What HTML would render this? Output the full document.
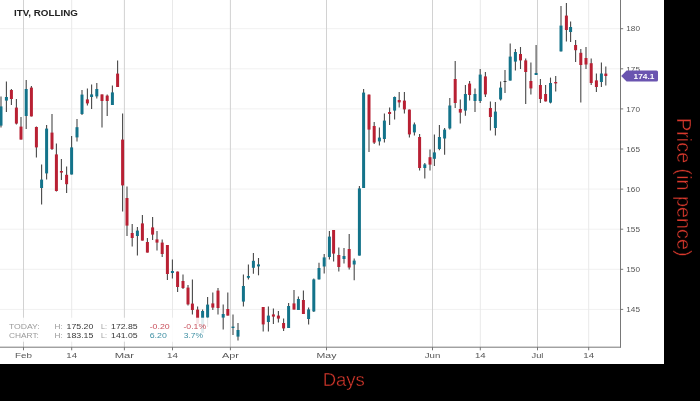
<!DOCTYPE html>
<html><head><meta charset="utf-8"><title>ITV, ROLLING</title>
<style>html,body{margin:0;padding:0;background:#000;}body{width:700px;height:401px;overflow:hidden;}svg{display:block;}text{font-family:"Liberation Sans","DejaVu Sans",sans-serif;}</style>
</head><body>
<svg width="700" height="401" viewBox="0 0 700 401">
<rect x="0" y="0" width="700" height="401" fill="#000"/>
<rect x="0" y="0" width="664" height="364" fill="#fff"/>
<g stroke="#f1f1f1" stroke-width="1">
<line x1="0" y1="28.7" x2="620.5" y2="28.7"/>
<line x1="0" y1="68.8" x2="620.5" y2="68.8"/>
<line x1="0" y1="108.9" x2="620.5" y2="108.9"/>
<line x1="0" y1="149.0" x2="620.5" y2="149.0"/>
<line x1="0" y1="189.1" x2="620.5" y2="189.1"/>
<line x1="0" y1="229.2" x2="620.5" y2="229.2"/>
<line x1="0" y1="269.3" x2="620.5" y2="269.3"/>
<line x1="0" y1="309.4" x2="620.5" y2="309.4"/>
</g>
<g stroke="#d2d2d2" stroke-width="1">
<line x1="23.5" y1="0" x2="23.5" y2="347"/>
<line x1="124.4" y1="0" x2="124.4" y2="347"/>
<line x1="230.4" y1="0" x2="230.4" y2="347"/>
<line x1="326.5" y1="0" x2="326.5" y2="347"/>
<line x1="432.5" y1="0" x2="432.5" y2="347"/>
<line x1="537.5" y1="0" x2="537.5" y2="347"/>
</g>
<g stroke="#e9e9e9" stroke-width="1">
<line x1="71.7" y1="0" x2="71.7" y2="347"/>
<line x1="172.5" y1="0" x2="172.5" y2="347"/>
<line x1="480.3" y1="0" x2="480.3" y2="347"/>
<line x1="588.7" y1="0" x2="588.7" y2="347"/>
</g>
<g>
<line x1="1.0" y1="96.6" x2="1.0" y2="127.6" stroke="#484848" stroke-width="1.1"/>
<rect x="-0.50" y="106.4" width="3" height="19.2" fill="#13738a"/>
<line x1="6.4" y1="81.6" x2="6.4" y2="112.0" stroke="#484848" stroke-width="1.1"/>
<rect x="4.90" y="97.0" width="3" height="3.6" fill="#13738a"/>
<line x1="11.4" y1="89.0" x2="11.4" y2="105.0" stroke="#484848" stroke-width="1.1"/>
<rect x="9.90" y="90.0" width="3" height="9.0" fill="#b82033"/>
<line x1="16.4" y1="99.0" x2="16.4" y2="124.4" stroke="#484848" stroke-width="1.1"/>
<rect x="14.90" y="107.6" width="3" height="16.0" fill="#b82033"/>
<line x1="21.0" y1="117.0" x2="21.0" y2="139.6" stroke="#484848" stroke-width="1.1"/>
<rect x="19.50" y="126.6" width="3" height="13.0" fill="#b82033"/>
<line x1="26.2" y1="80.0" x2="26.2" y2="129.0" stroke="#484848" stroke-width="1.1"/>
<rect x="24.70" y="89.0" width="3" height="27.0" fill="#13738a"/>
<line x1="31.4" y1="86.0" x2="31.4" y2="116.4" stroke="#484848" stroke-width="1.1"/>
<rect x="29.90" y="87.6" width="3" height="28.8" fill="#b82033"/>
<line x1="36.4" y1="126.6" x2="36.4" y2="157.6" stroke="#484848" stroke-width="1.1"/>
<rect x="34.90" y="127.0" width="3" height="20.4" fill="#b82033"/>
<line x1="41.6" y1="164.4" x2="41.6" y2="204.6" stroke="#484848" stroke-width="1.1"/>
<rect x="40.10" y="179.6" width="3" height="8.4" fill="#13738a"/>
<line x1="46.6" y1="125.0" x2="46.6" y2="179.5" stroke="#484848" stroke-width="1.1"/>
<rect x="45.10" y="128.6" width="3" height="44.8" fill="#13738a"/>
<line x1="52.0" y1="114.0" x2="52.0" y2="150.0" stroke="#484848" stroke-width="1.1"/>
<rect x="50.50" y="132.6" width="3" height="16.4" fill="#b82033"/>
<line x1="56.4" y1="143.4" x2="56.4" y2="191.6" stroke="#484848" stroke-width="1.1"/>
<rect x="54.90" y="154.4" width="3" height="36.6" fill="#b82033"/>
<line x1="61.4" y1="159.0" x2="61.4" y2="180.0" stroke="#484848" stroke-width="1.1"/>
<rect x="59.90" y="171.0" width="3" height="1.6" fill="#b82033"/>
<line x1="66.6" y1="166.6" x2="66.6" y2="193.0" stroke="#484848" stroke-width="1.1"/>
<rect x="65.10" y="174.8" width="3" height="9.4" fill="#b82033"/>
<line x1="71.6" y1="136.0" x2="71.6" y2="174.5" stroke="#484848" stroke-width="1.1"/>
<rect x="70.10" y="147.4" width="3" height="27.1" fill="#13738a"/>
<line x1="77.0" y1="119.0" x2="77.0" y2="141.6" stroke="#484848" stroke-width="1.1"/>
<rect x="75.50" y="127.2" width="3" height="10.2" fill="#13738a"/>
<line x1="82.0" y1="90.0" x2="82.0" y2="115.0" stroke="#484848" stroke-width="1.1"/>
<rect x="80.50" y="94.6" width="3" height="19.4" fill="#13738a"/>
<line x1="87.4" y1="88.4" x2="87.4" y2="105.6" stroke="#484848" stroke-width="1.1"/>
<rect x="85.90" y="99.4" width="3" height="4.0" fill="#b82033"/>
<line x1="91.6" y1="84.4" x2="91.6" y2="109.0" stroke="#484848" stroke-width="1.1"/>
<rect x="90.10" y="94.4" width="3" height="2.6" fill="#13738a"/>
<line x1="96.8" y1="83.0" x2="96.8" y2="98.6" stroke="#484848" stroke-width="1.1"/>
<rect x="95.30" y="89.0" width="3" height="7.4" fill="#13738a"/>
<line x1="102.0" y1="94.4" x2="102.0" y2="127.6" stroke="#484848" stroke-width="1.1"/>
<rect x="100.50" y="94.4" width="3" height="6.6" fill="#b82033"/>
<line x1="107.2" y1="94.4" x2="107.2" y2="116.0" stroke="#484848" stroke-width="1.1"/>
<rect x="105.70" y="95.6" width="3" height="5.4" fill="#b82033"/>
<line x1="112.4" y1="85.6" x2="112.4" y2="105.0" stroke="#484848" stroke-width="1.1"/>
<rect x="110.90" y="92.4" width="3" height="12.6" fill="#13738a"/>
<line x1="117.6" y1="60.4" x2="117.6" y2="87.0" stroke="#484848" stroke-width="1.1"/>
<rect x="116.10" y="73.6" width="3" height="13.4" fill="#b82033"/>
<line x1="122.6" y1="113.6" x2="122.6" y2="211.4" stroke="#484848" stroke-width="1.1"/>
<rect x="121.10" y="139.6" width="3" height="45.8" fill="#b82033"/>
<line x1="127.0" y1="186.6" x2="127.0" y2="236.0" stroke="#484848" stroke-width="1.1"/>
<rect x="125.50" y="198.0" width="3" height="27.6" fill="#b82033"/>
<line x1="132.2" y1="224.0" x2="132.2" y2="246.6" stroke="#484848" stroke-width="1.1"/>
<rect x="130.70" y="233.0" width="3" height="5.0" fill="#b82033"/>
<line x1="137.4" y1="227.0" x2="137.4" y2="255.4" stroke="#484848" stroke-width="1.1"/>
<rect x="135.90" y="230.6" width="3" height="5.4" fill="#13738a"/>
<line x1="142.4" y1="215.0" x2="142.4" y2="240.6" stroke="#484848" stroke-width="1.1"/>
<rect x="140.90" y="223.4" width="3" height="17.2" fill="#b82033"/>
<line x1="147.4" y1="238.0" x2="147.4" y2="252.6" stroke="#484848" stroke-width="1.1"/>
<rect x="145.90" y="242.0" width="3" height="10.6" fill="#b82033"/>
<line x1="152.6" y1="217.0" x2="152.6" y2="240.0" stroke="#484848" stroke-width="1.1"/>
<rect x="151.10" y="227.4" width="3" height="7.2" fill="#b82033"/>
<line x1="157.0" y1="231.0" x2="157.0" y2="250.6" stroke="#484848" stroke-width="1.1"/>
<rect x="155.50" y="239.4" width="3" height="3.2" fill="#b82033"/>
<line x1="162.2" y1="239.4" x2="162.2" y2="257.0" stroke="#484848" stroke-width="1.1"/>
<rect x="160.70" y="242.6" width="3" height="11.4" fill="#b82033"/>
<line x1="167.4" y1="245.0" x2="167.4" y2="280.0" stroke="#484848" stroke-width="1.1"/>
<rect x="165.90" y="245.0" width="3" height="29.0" fill="#b82033"/>
<line x1="172.4" y1="259.6" x2="172.4" y2="278.5" stroke="#484848" stroke-width="1.1"/>
<rect x="170.90" y="271.0" width="3" height="2.0" fill="#13738a"/>
<line x1="177.6" y1="271.6" x2="177.6" y2="292.0" stroke="#484848" stroke-width="1.1"/>
<rect x="176.10" y="271.6" width="3" height="15.4" fill="#b82033"/>
<line x1="183.0" y1="274.4" x2="183.0" y2="289.0" stroke="#484848" stroke-width="1.1"/>
<rect x="181.50" y="281.0" width="3" height="7.0" fill="#b82033"/>
<line x1="188.0" y1="285.0" x2="188.0" y2="305.6" stroke="#484848" stroke-width="1.1"/>
<rect x="186.50" y="287.6" width="3" height="16.8" fill="#b82033"/>
<line x1="192.4" y1="279.6" x2="192.4" y2="314.6" stroke="#484848" stroke-width="1.1"/>
<rect x="190.90" y="303.6" width="3" height="6.4" fill="#b82033"/>
<line x1="197.6" y1="306.4" x2="197.6" y2="323.7" stroke="#484848" stroke-width="1.1"/>
<rect x="196.10" y="309.6" width="3" height="14.1" fill="#b82033"/>
<line x1="202.6" y1="309.6" x2="202.6" y2="333.0" stroke="#484848" stroke-width="1.1"/>
<rect x="201.10" y="311.0" width="3" height="22.0" fill="#13738a"/>
<line x1="207.6" y1="297.0" x2="207.6" y2="327.0" stroke="#484848" stroke-width="1.1"/>
<rect x="206.10" y="304.6" width="3" height="13.0" fill="#13738a"/>
<line x1="212.8" y1="292.4" x2="212.8" y2="310.0" stroke="#484848" stroke-width="1.1"/>
<rect x="211.30" y="303.4" width="3" height="4.2" fill="#b82033"/>
<line x1="218.0" y1="288.0" x2="218.0" y2="314.6" stroke="#484848" stroke-width="1.1"/>
<rect x="216.50" y="290.6" width="3" height="17.4" fill="#b82033"/>
<line x1="223.2" y1="304.6" x2="223.2" y2="329.6" stroke="#484848" stroke-width="1.1"/>
<rect x="221.70" y="314.0" width="3" height="3.6" fill="#13738a"/>
<line x1="227.8" y1="292.4" x2="227.8" y2="315.6" stroke="#484848" stroke-width="1.1"/>
<rect x="226.30" y="309.0" width="3" height="6.6" fill="#b82033"/>
<line x1="233.0" y1="314.4" x2="233.0" y2="335.0" stroke="#484848" stroke-width="1.1"/>
<rect x="231.50" y="326.6" width="3" height="1.4" fill="#13738a"/>
<line x1="238.0" y1="323.0" x2="238.0" y2="340.6" stroke="#484848" stroke-width="1.1"/>
<rect x="236.50" y="330.0" width="3" height="6.6" fill="#13738a"/>
<line x1="243.4" y1="274.4" x2="243.4" y2="306.4" stroke="#484848" stroke-width="1.1"/>
<rect x="241.90" y="286.0" width="3" height="15.6" fill="#13738a"/>
<line x1="248.4" y1="264.6" x2="248.4" y2="279.6" stroke="#484848" stroke-width="1.1"/>
<rect x="246.90" y="276.0" width="3" height="1.8" fill="#13738a"/>
<line x1="253.4" y1="253.0" x2="253.4" y2="273.8" stroke="#484848" stroke-width="1.1"/>
<rect x="251.90" y="260.8" width="3" height="7.0" fill="#13738a"/>
<line x1="258.5" y1="258.0" x2="258.5" y2="275.3" stroke="#484848" stroke-width="1.1"/>
<rect x="257.00" y="264.4" width="3" height="2.0" fill="#13738a"/>
<line x1="263.2" y1="307.0" x2="263.2" y2="331.6" stroke="#484848" stroke-width="1.1"/>
<rect x="261.70" y="307.0" width="3" height="17.4" fill="#b82033"/>
<line x1="268.4" y1="306.4" x2="268.4" y2="331.6" stroke="#484848" stroke-width="1.1"/>
<rect x="266.90" y="315.6" width="3" height="6.4" fill="#13738a"/>
<line x1="273.4" y1="308.4" x2="273.4" y2="324.0" stroke="#484848" stroke-width="1.1"/>
<rect x="271.90" y="314.4" width="3" height="2.2" fill="#b82033"/>
<line x1="278.4" y1="311.0" x2="278.4" y2="322.6" stroke="#484848" stroke-width="1.1"/>
<rect x="276.90" y="315.6" width="3" height="3.0" fill="#b82033"/>
<line x1="283.6" y1="318.6" x2="283.6" y2="331.0" stroke="#484848" stroke-width="1.1"/>
<rect x="282.10" y="323.0" width="3" height="5.4" fill="#b82033"/>
<line x1="288.6" y1="303.0" x2="288.6" y2="328.0" stroke="#484848" stroke-width="1.1"/>
<rect x="287.10" y="306.0" width="3" height="22.0" fill="#13738a"/>
<line x1="294.0" y1="290.0" x2="294.0" y2="309.6" stroke="#484848" stroke-width="1.1"/>
<rect x="292.50" y="303.4" width="3" height="6.2" fill="#b82033"/>
<line x1="298.4" y1="296.6" x2="298.4" y2="310.0" stroke="#484848" stroke-width="1.1"/>
<rect x="296.90" y="299.0" width="3" height="11.0" fill="#13738a"/>
<line x1="303.4" y1="290.6" x2="303.4" y2="314.0" stroke="#484848" stroke-width="1.1"/>
<rect x="301.90" y="300.0" width="3" height="14.0" fill="#b82033"/>
<line x1="308.6" y1="307.6" x2="308.6" y2="324.6" stroke="#484848" stroke-width="1.1"/>
<rect x="307.10" y="309.4" width="3" height="9.6" fill="#13738a"/>
<line x1="313.8" y1="278.4" x2="313.8" y2="312.0" stroke="#484848" stroke-width="1.1"/>
<rect x="312.30" y="279.4" width="3" height="32.0" fill="#13738a"/>
<line x1="319.0" y1="262.8" x2="319.0" y2="279.4" stroke="#484848" stroke-width="1.1"/>
<rect x="317.50" y="268.0" width="3" height="11.4" fill="#13738a"/>
<line x1="324.2" y1="254.0" x2="324.2" y2="273.6" stroke="#484848" stroke-width="1.1"/>
<rect x="322.70" y="257.4" width="3" height="9.1" fill="#13738a"/>
<line x1="329.4" y1="231.0" x2="329.4" y2="259.6" stroke="#484848" stroke-width="1.1"/>
<rect x="327.90" y="236.6" width="3" height="20.4" fill="#13738a"/>
<line x1="333.6" y1="230.0" x2="333.6" y2="261.6" stroke="#484848" stroke-width="1.1"/>
<rect x="332.10" y="230.0" width="3" height="23.6" fill="#b82033"/>
<line x1="338.8" y1="247.6" x2="338.8" y2="271.6" stroke="#484848" stroke-width="1.1"/>
<rect x="337.30" y="255.0" width="3" height="12.0" fill="#b82033"/>
<line x1="344.0" y1="248.0" x2="344.0" y2="263.6" stroke="#484848" stroke-width="1.1"/>
<rect x="342.50" y="256.0" width="3" height="3.0" fill="#13738a"/>
<line x1="349.2" y1="234.0" x2="349.2" y2="269.4" stroke="#484848" stroke-width="1.1"/>
<rect x="347.70" y="249.0" width="3" height="18.5" fill="#b82033"/>
<line x1="354.2" y1="258.4" x2="354.2" y2="280.3" stroke="#484848" stroke-width="1.1"/>
<rect x="352.70" y="260.6" width="3" height="3.9" fill="#13738a"/>
<line x1="359.4" y1="186.0" x2="359.4" y2="255.6" stroke="#484848" stroke-width="1.1"/>
<rect x="357.90" y="188.4" width="3" height="67.2" fill="#13738a"/>
<line x1="363.6" y1="89.0" x2="363.6" y2="188.0" stroke="#484848" stroke-width="1.1"/>
<rect x="362.10" y="92.6" width="3" height="95.4" fill="#13738a"/>
<line x1="369.0" y1="94.6" x2="369.0" y2="152.0" stroke="#484848" stroke-width="1.1"/>
<rect x="367.50" y="94.6" width="3" height="35.0" fill="#b82033"/>
<line x1="374.2" y1="122.0" x2="374.2" y2="144.0" stroke="#484848" stroke-width="1.1"/>
<rect x="372.70" y="126.0" width="3" height="16.6" fill="#b82033"/>
<line x1="379.4" y1="127.4" x2="379.4" y2="145.4" stroke="#484848" stroke-width="1.1"/>
<rect x="377.90" y="137.6" width="3" height="3.8" fill="#13738a"/>
<line x1="384.4" y1="113.6" x2="384.4" y2="142.6" stroke="#484848" stroke-width="1.1"/>
<rect x="382.90" y="120.6" width="3" height="18.4" fill="#13738a"/>
<line x1="389.6" y1="107.4" x2="389.6" y2="125.0" stroke="#484848" stroke-width="1.1"/>
<rect x="388.10" y="112.0" width="3" height="2.0" fill="#b82033"/>
<line x1="394.6" y1="96.6" x2="394.6" y2="119.6" stroke="#484848" stroke-width="1.1"/>
<rect x="393.10" y="97.0" width="3" height="13.6" fill="#13738a"/>
<line x1="399.2" y1="92.0" x2="399.2" y2="107.4" stroke="#484848" stroke-width="1.1"/>
<rect x="397.70" y="100.0" width="3" height="2.4" fill="#b82033"/>
<line x1="404.4" y1="92.0" x2="404.4" y2="113.4" stroke="#484848" stroke-width="1.1"/>
<rect x="402.90" y="100.6" width="3" height="8.8" fill="#b82033"/>
<line x1="409.4" y1="109.6" x2="409.4" y2="137.4" stroke="#484848" stroke-width="1.1"/>
<rect x="407.90" y="109.6" width="3" height="24.8" fill="#b82033"/>
<line x1="414.4" y1="122.6" x2="414.4" y2="135.4" stroke="#484848" stroke-width="1.1"/>
<rect x="412.90" y="124.4" width="3" height="8.0" fill="#13738a"/>
<line x1="419.6" y1="134.0" x2="419.6" y2="170.4" stroke="#484848" stroke-width="1.1"/>
<rect x="418.10" y="137.0" width="3" height="31.0" fill="#b82033"/>
<line x1="424.8" y1="163.0" x2="424.8" y2="178.6" stroke="#484848" stroke-width="1.1"/>
<rect x="423.30" y="164.4" width="3" height="3.6" fill="#13738a"/>
<line x1="430.0" y1="149.6" x2="430.0" y2="170.6" stroke="#484848" stroke-width="1.1"/>
<rect x="428.50" y="157.2" width="3" height="7.4" fill="#b82033"/>
<line x1="434.4" y1="134.6" x2="434.4" y2="166.0" stroke="#484848" stroke-width="1.1"/>
<rect x="432.90" y="152.4" width="3" height="6.4" fill="#13738a"/>
<line x1="439.4" y1="125.0" x2="439.4" y2="150.2" stroke="#484848" stroke-width="1.1"/>
<rect x="437.90" y="137.0" width="3" height="12.0" fill="#13738a"/>
<line x1="444.6" y1="128.0" x2="444.6" y2="154.8" stroke="#484848" stroke-width="1.1"/>
<rect x="443.10" y="129.6" width="3" height="8.9" fill="#13738a"/>
<line x1="449.8" y1="98.0" x2="449.8" y2="129.4" stroke="#484848" stroke-width="1.1"/>
<rect x="448.30" y="105.5" width="3" height="22.9" fill="#13738a"/>
<line x1="455.2" y1="61.0" x2="455.2" y2="108.0" stroke="#484848" stroke-width="1.1"/>
<rect x="453.70" y="79.0" width="3" height="24.0" fill="#b82033"/>
<line x1="460.3" y1="99.4" x2="460.3" y2="123.6" stroke="#484848" stroke-width="1.1"/>
<rect x="458.80" y="109.0" width="3" height="3.6" fill="#b82033"/>
<line x1="465.4" y1="85.0" x2="465.4" y2="115.8" stroke="#484848" stroke-width="1.1"/>
<rect x="463.90" y="94.0" width="3" height="16.6" fill="#13738a"/>
<line x1="469.6" y1="81.0" x2="469.6" y2="100.6" stroke="#484848" stroke-width="1.1"/>
<rect x="468.10" y="83.6" width="3" height="11.4" fill="#b82033"/>
<line x1="475.0" y1="88.6" x2="475.0" y2="112.0" stroke="#484848" stroke-width="1.1"/>
<rect x="473.50" y="94.0" width="3" height="7.0" fill="#13738a"/>
<line x1="480.2" y1="69.0" x2="480.2" y2="103.0" stroke="#484848" stroke-width="1.1"/>
<rect x="478.70" y="74.6" width="3" height="26.4" fill="#13738a"/>
<line x1="485.4" y1="72.0" x2="485.4" y2="97.0" stroke="#484848" stroke-width="1.1"/>
<rect x="483.90" y="76.4" width="3" height="18.0" fill="#b82033"/>
<line x1="490.4" y1="101.4" x2="490.4" y2="130.4" stroke="#484848" stroke-width="1.1"/>
<rect x="488.90" y="108.0" width="3" height="9.0" fill="#b82033"/>
<line x1="495.4" y1="102.0" x2="495.4" y2="135.4" stroke="#484848" stroke-width="1.1"/>
<rect x="493.90" y="111.6" width="3" height="16.4" fill="#13738a"/>
<line x1="500.6" y1="81.6" x2="500.6" y2="100.6" stroke="#484848" stroke-width="1.1"/>
<rect x="499.10" y="87.6" width="3" height="11.8" fill="#13738a"/>
<line x1="505.0" y1="70.0" x2="505.0" y2="93.0" stroke="#484848" stroke-width="1.1"/>
<rect x="503.50" y="81.0" width="3" height="0.8" fill="#222"/>
<line x1="510.2" y1="43.4" x2="510.2" y2="80.6" stroke="#484848" stroke-width="1.1"/>
<rect x="508.70" y="56.6" width="3" height="24.0" fill="#13738a"/>
<line x1="515.4" y1="49.0" x2="515.4" y2="70.4" stroke="#484848" stroke-width="1.1"/>
<rect x="513.90" y="52.0" width="3" height="9.6" fill="#13738a"/>
<line x1="520.5" y1="47.0" x2="520.5" y2="69.0" stroke="#484848" stroke-width="1.1"/>
<rect x="519.00" y="54.0" width="3" height="6.4" fill="#b82033"/>
<line x1="525.7" y1="58.4" x2="525.7" y2="104.0" stroke="#484848" stroke-width="1.1"/>
<rect x="524.20" y="60.4" width="3" height="11.6" fill="#b82033"/>
<line x1="530.9" y1="62.6" x2="530.9" y2="94.4" stroke="#484848" stroke-width="1.1"/>
<rect x="529.40" y="81.0" width="3" height="7.4" fill="#b82033"/>
<line x1="536.1" y1="45.0" x2="536.1" y2="75.0" stroke="#484848" stroke-width="1.1"/>
<rect x="534.60" y="73.0" width="3" height="2.0" fill="#13738a"/>
<line x1="540.4" y1="79.0" x2="540.4" y2="103.0" stroke="#484848" stroke-width="1.1"/>
<rect x="538.90" y="85.0" width="3" height="14.0" fill="#b82033"/>
<line x1="545.6" y1="85.0" x2="545.6" y2="101.4" stroke="#484848" stroke-width="1.1"/>
<rect x="544.10" y="94.0" width="3" height="7.4" fill="#b82033"/>
<line x1="550.5" y1="77.6" x2="550.5" y2="103.4" stroke="#484848" stroke-width="1.1"/>
<rect x="549.00" y="83.0" width="3" height="19.6" fill="#13738a"/>
<line x1="555.7" y1="76.0" x2="555.7" y2="91.6" stroke="#484848" stroke-width="1.1"/>
<rect x="554.20" y="82.0" width="3" height="1.4" fill="#b82033"/>
<line x1="561.0" y1="6.0" x2="561.0" y2="51.6" stroke="#484848" stroke-width="1.1"/>
<rect x="559.50" y="25.6" width="3" height="25.8" fill="#13738a"/>
<line x1="566.4" y1="3.0" x2="566.4" y2="41.4" stroke="#484848" stroke-width="1.1"/>
<rect x="564.90" y="15.6" width="3" height="14.4" fill="#b82033"/>
<line x1="570.6" y1="21.6" x2="570.6" y2="42.0" stroke="#484848" stroke-width="1.1"/>
<rect x="569.10" y="27.0" width="3" height="5.0" fill="#13738a"/>
<line x1="575.6" y1="40.0" x2="575.6" y2="62.0" stroke="#484848" stroke-width="1.1"/>
<rect x="574.10" y="45.0" width="3" height="5.2" fill="#b82033"/>
<line x1="580.8" y1="49.0" x2="580.8" y2="102.6" stroke="#484848" stroke-width="1.1"/>
<rect x="579.30" y="52.8" width="3" height="12.2" fill="#b82033"/>
<line x1="586.0" y1="47.0" x2="586.0" y2="69.0" stroke="#484848" stroke-width="1.1"/>
<rect x="584.50" y="58.0" width="3" height="6.5" fill="#b82033"/>
<line x1="591.2" y1="58.4" x2="591.2" y2="85.0" stroke="#484848" stroke-width="1.1"/>
<rect x="589.70" y="63.2" width="3" height="19.8" fill="#b82033"/>
<line x1="596.4" y1="73.4" x2="596.4" y2="92.0" stroke="#484848" stroke-width="1.1"/>
<rect x="594.90" y="80.4" width="3" height="6.6" fill="#b82033"/>
<line x1="601.4" y1="62.6" x2="601.4" y2="87.0" stroke="#484848" stroke-width="1.1"/>
<rect x="599.90" y="73.5" width="3" height="8.5" fill="#13738a"/>
<line x1="605.8" y1="66.6" x2="605.8" y2="85.6" stroke="#484848" stroke-width="1.1"/>
<rect x="604.30" y="73.6" width="3" height="2.4" fill="#b82033"/>
</g>
<rect x="0" y="317.7" width="210" height="24" fill="#fff" fill-opacity="0.87"/>
<text x="8.9" y="328.5" font-size="6.8" font-weight="normal" fill="#9a9a9a" text-anchor="start" textLength="30.9" lengthAdjust="spacingAndGlyphs">TODAY:</text>
<text x="8.9" y="338.0" font-size="6.8" font-weight="normal" fill="#9a9a9a" text-anchor="start" textLength="30.0" lengthAdjust="spacingAndGlyphs">CHART:</text>
<text x="54.5" y="328.5" font-size="6.8" font-weight="normal" fill="#9a9a9a" text-anchor="start" textLength="8.2" lengthAdjust="spacingAndGlyphs">H:</text>
<text x="54.5" y="338.0" font-size="6.8" font-weight="normal" fill="#9a9a9a" text-anchor="start" textLength="8.2" lengthAdjust="spacingAndGlyphs">H:</text>
<text x="66.5" y="328.5" font-size="6.8" font-weight="normal" fill="#3a3a3a" text-anchor="start" textLength="26.9" lengthAdjust="spacingAndGlyphs">175.20</text>
<text x="66.5" y="338.0" font-size="6.8" font-weight="normal" fill="#3a3a3a" text-anchor="start" textLength="26.9" lengthAdjust="spacingAndGlyphs">183.15</text>
<text x="101.1" y="328.5" font-size="6.8" font-weight="normal" fill="#9a9a9a" text-anchor="start" textLength="6.0" lengthAdjust="spacingAndGlyphs">L:</text>
<text x="101.1" y="338.0" font-size="6.8" font-weight="normal" fill="#9a9a9a" text-anchor="start" textLength="6.0" lengthAdjust="spacingAndGlyphs">L:</text>
<text x="111.1" y="328.5" font-size="6.8" font-weight="normal" fill="#3a3a3a" text-anchor="start" textLength="26.6" lengthAdjust="spacingAndGlyphs">172.85</text>
<text x="111.1" y="338.0" font-size="6.8" font-weight="normal" fill="#3a3a3a" text-anchor="start" textLength="26.6" lengthAdjust="spacingAndGlyphs">141.05</text>
<text x="149.7" y="328.5" font-size="6.8" font-weight="normal" fill="#c8505c" text-anchor="start" textLength="20.0" lengthAdjust="spacingAndGlyphs">-0.20</text>
<text x="149.7" y="338.0" font-size="6.8" font-weight="normal" fill="#3f8fa3" text-anchor="start" textLength="17.1" lengthAdjust="spacingAndGlyphs">6.20</text>
<text x="183.4" y="328.5" font-size="6.8" font-weight="normal" fill="#c8505c" text-anchor="start" textLength="22.8" lengthAdjust="spacingAndGlyphs">-0.1%</text>
<text x="183.8" y="338.0" font-size="6.8" font-weight="normal" fill="#3f8fa3" text-anchor="start" textLength="19.3" lengthAdjust="spacingAndGlyphs">3.7%</text>
<text x="14" y="16.4" font-size="8.2" font-weight="bold" fill="#222" text-anchor="start" textLength="63.9" lengthAdjust="spacingAndGlyphs">ITV, ROLLING</text>
<g stroke="#787878" stroke-width="1">
<line x1="0" y1="347.2" x2="621" y2="347.2"/>
<line x1="620.5" y1="0" x2="620.5" y2="347.6"/>
<line x1="620.5" y1="28.7" x2="623.2" y2="28.7"/>
<line x1="620.5" y1="68.8" x2="623.2" y2="68.8"/>
<line x1="620.5" y1="108.9" x2="623.2" y2="108.9"/>
<line x1="620.5" y1="149.0" x2="623.2" y2="149.0"/>
<line x1="620.5" y1="189.1" x2="623.2" y2="189.1"/>
<line x1="620.5" y1="229.2" x2="623.2" y2="229.2"/>
<line x1="620.5" y1="269.3" x2="623.2" y2="269.3"/>
<line x1="620.5" y1="309.4" x2="623.2" y2="309.4"/>
<line x1="23.5" y1="347" x2="23.5" y2="350.3"/>
<line x1="124.4" y1="347" x2="124.4" y2="350.3"/>
<line x1="230.4" y1="347" x2="230.4" y2="350.3"/>
<line x1="326.5" y1="347" x2="326.5" y2="350.3"/>
<line x1="432.5" y1="347" x2="432.5" y2="350.3"/>
<line x1="537.5" y1="347" x2="537.5" y2="350.3"/>
<line x1="71.7" y1="347" x2="71.7" y2="350.3"/>
<line x1="172.5" y1="347" x2="172.5" y2="350.3"/>
<line x1="480.3" y1="347" x2="480.3" y2="350.3"/>
<line x1="588.7" y1="347" x2="588.7" y2="350.3"/>
</g>
<text x="23.5" y="358.4" font-size="7.6" font-weight="normal" fill="#555" text-anchor="middle" textLength="17.0" lengthAdjust="spacingAndGlyphs">Feb</text>
<text x="124.4" y="358.4" font-size="7.6" font-weight="normal" fill="#555" text-anchor="middle" textLength="19.4" lengthAdjust="spacingAndGlyphs">Mar</text>
<text x="230.4" y="358.4" font-size="7.6" font-weight="normal" fill="#555" text-anchor="middle" textLength="17.0" lengthAdjust="spacingAndGlyphs">Apr</text>
<text x="326.5" y="358.4" font-size="7.6" font-weight="normal" fill="#555" text-anchor="middle" textLength="19.9" lengthAdjust="spacingAndGlyphs">May</text>
<text x="432.5" y="358.4" font-size="7.6" font-weight="normal" fill="#555" text-anchor="middle" textLength="15.5" lengthAdjust="spacingAndGlyphs">Jun</text>
<text x="537.5" y="358.4" font-size="7.6" font-weight="normal" fill="#555" text-anchor="middle" textLength="11.9" lengthAdjust="spacingAndGlyphs">Jul</text>
<text x="71.7" y="358.4" font-size="7.6" font-weight="normal" fill="#555" text-anchor="middle" textLength="10.7" lengthAdjust="spacingAndGlyphs">14</text>
<text x="172.5" y="358.4" font-size="7.6" font-weight="normal" fill="#555" text-anchor="middle" textLength="10.9" lengthAdjust="spacingAndGlyphs">14</text>
<text x="480.3" y="358.4" font-size="7.6" font-weight="normal" fill="#555" text-anchor="middle" textLength="10.7" lengthAdjust="spacingAndGlyphs">14</text>
<text x="588.7" y="358.4" font-size="7.6" font-weight="normal" fill="#555" text-anchor="middle" textLength="10.8" lengthAdjust="spacingAndGlyphs">14</text>
<text x="626.3" y="31.4" font-size="7.2" font-weight="normal" fill="#555" text-anchor="start" textLength="13.7" lengthAdjust="spacingAndGlyphs">180</text>
<text x="626.3" y="71.5" font-size="7.2" font-weight="normal" fill="#555" text-anchor="start" textLength="13.7" lengthAdjust="spacingAndGlyphs">175</text>
<text x="626.3" y="111.60000000000001" font-size="7.2" font-weight="normal" fill="#555" text-anchor="start" textLength="13.7" lengthAdjust="spacingAndGlyphs">170</text>
<text x="626.3" y="151.7" font-size="7.2" font-weight="normal" fill="#555" text-anchor="start" textLength="13.7" lengthAdjust="spacingAndGlyphs">165</text>
<text x="626.3" y="191.79999999999998" font-size="7.2" font-weight="normal" fill="#555" text-anchor="start" textLength="13.7" lengthAdjust="spacingAndGlyphs">160</text>
<text x="626.3" y="231.89999999999998" font-size="7.2" font-weight="normal" fill="#555" text-anchor="start" textLength="13.7" lengthAdjust="spacingAndGlyphs">155</text>
<text x="626.3" y="272.0" font-size="7.2" font-weight="normal" fill="#555" text-anchor="start" textLength="13.7" lengthAdjust="spacingAndGlyphs">150</text>
<text x="626.3" y="312.09999999999997" font-size="7.2" font-weight="normal" fill="#555" text-anchor="start" textLength="13.7" lengthAdjust="spacingAndGlyphs">145</text>
<path d="M621.2 76 L626.6 70.6 H656.5 Q658 70.6 658 72.1 V79.9 Q658 81.4 656.5 81.4 H626.6 Z" fill="#6a54b0"/>
<text x="633.6" y="78.7" font-size="7.2" font-weight="bold" fill="#fff" text-anchor="start" textLength="20.8" lengthAdjust="spacingAndGlyphs">174.1</text>
<text transform="translate(676.5 118.1) rotate(90)" font-size="20" fill="#d9392d" stroke="#000" stroke-width="0.45" paint-order="fill stroke" textLength="138.4" lengthAdjust="spacingAndGlyphs">Price (in pence)</text>
<text x="322.7" y="385.5" font-size="17.6" fill="#d9392d" stroke="#000" stroke-width="0.4" paint-order="fill stroke" textLength="42.2" lengthAdjust="spacingAndGlyphs">Days</text>
</svg></body></html>
